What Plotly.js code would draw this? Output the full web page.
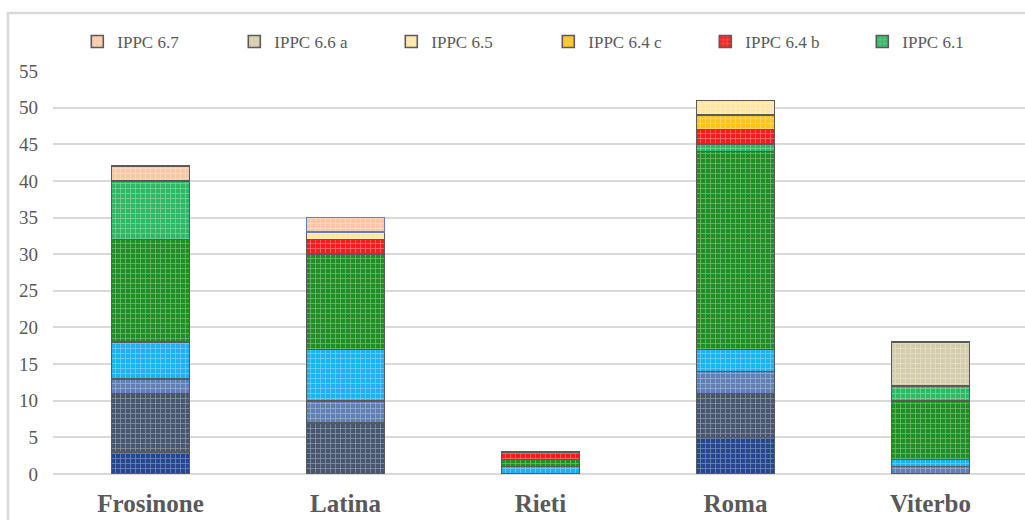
<!DOCTYPE html>
<html>
<head>
<meta charset="utf-8">
<script src="https://cdn.plot.ly/plotly-3.0.1.min.js"></script>
<style>
html,body{margin:0;padding:0;background:#fff;overflow:hidden;}
#chart{width:1025px;height:520px;}
</style>
</head>
<body>
<div id="chart"></div>
<script>
// Categories (provinces)
var categories = ['Frosinone', 'Latina', 'Rieti', 'Roma', 'Viterbo'];

// Series, bottom of the stack to top (null = no segment)
var seriesNames = ['IPPC 1.1', 'IPPC 2.3 a', 'IPPC 2.5 b', 'IPPC 5.3', 'IPPC 5.4',
                   'IPPC 6.1', 'IPPC 6.4 b', 'IPPC 6.4 c', 'IPPC 6.5', 'IPPC 6.6 a', 'IPPC 6.7'];
var ippc11  = [3, null, null, 5, null];
var ippc23a = [8, 7, null, 6, null];
var ippc25b = [2, 3, null, 3, 1];
var ippc53  = [5, 7, 1, 3, 1];
var ippc54  = [14, 13, 1, 27, 8];
var ippc61  = [8, null, null, 1, 2];
var ippc64b = [null, 2, 1, 2, null];
var ippc64c = [null, null, null, 2, null];
var ippc65  = [null, 1, null, 2, null];
var ippc66a = [null, null, null, null, 6];
var ippc67  = [2, 2, null, null, null];

var values = [ippc11, ippc23a, ippc25b, ippc53, ippc54, ippc61, ippc64b, ippc64c, ippc65, ippc66a, ippc67];
var colors = ['#24458f', '#46566e', '#5f7fb5', '#1cb2f2', '#1f8f24', '#2fb863',
              '#f51c1c', '#ffc21a', '#ffe6a3', '#d3ccac', '#f9c7a6'];
var inLegend = [false, false, false, false, false, true, true, true, true, true, true];

// Chart y-axis ticks
var yTicks = [0, 5, 10, 15, 20, 25, 30, 35, 40, 45, 50, 55];

var serif = '"Liberation Serif", "Times New Roman", serif';

var traces = seriesNames.map(function (name, i) {
  var lineColor = '#5a5a5a';
  if (name === 'IPPC 6.7') lineColor = ['#5a5a5a', '#5b7fc0', '#5a5a5a', '#5a5a5a', '#5a5a5a'];
  return {
    type: 'bar',
    name: name,
    x: categories,
    y: values[i],
    showlegend: inLegend[i],
    marker: {
      color: colors[i],
      line: {color: lineColor, width: 1.6},
      pattern: {shape: '+', size: 5, solidity: 0.3, fgcolor: '#ffffff', fgopacity: 0.35, fillmode: 'overlay'}
    },
    hovertemplate: '%{x}<br>' + name + ': %{y}<extra></extra>'
  };
});

var layout = {
  width: 1025,
  height: 520,
  margin: {l: 53, r: 0, t: 71, b: 46, pad: 0},
  paper_bgcolor: '#ffffff',
  plot_bgcolor: '#ffffff',
  barmode: 'stack',
  bargap: 0.6,
  font: {family: serif, color: '#595959', size: 17},
  xaxis: {
    type: 'category',
    range: [-0.5, 4.485],
    showgrid: false,
    showline: false,
    zeroline: false,
    ticks: '',
    ticklabelstandoff: 12,
    tickfont: {family: serif, size: 25, color: '#595959', weight: 'bold'}
  },
  yaxis: {
    range: [0, 55],
    tickvals: yTicks,
    ticktext: yTicks.map(String),
    showgrid: true,
    gridcolor: '#d9d9d9',
    gridwidth: 1.5,
    zeroline: true,
    zerolinecolor: '#d9d9d9',
    zerolinewidth: 1.5,
    showline: false,
    ticks: '',
    ticklabelstandoff: 14,
    tickfont: {family: serif, size: 19, color: '#595959'}
  },
  legend: {
    orientation: 'h',
    traceorder: 'reversed',
    x: 0.025,
    xanchor: 'left',
    y: 1.072,
    yanchor: 'middle',
    entrywidth: 112,
    entrywidthmode: 'pixels',
    itemwidth: 30,
    font: {family: serif, size: 17, color: '#595959'},
    bgcolor: 'rgba(0,0,0,0)'
  },
  shapes: [{
    type: 'rect', xref: 'paper', yref: 'paper',
    x0: -0.0463, x1: 1.05, y0: -0.3, y1: 1.1439,
    line: {color: '#d9d9d9', width: 2.5},
    fillcolor: 'rgba(0,0,0,0)',
    layer: 'below'
  }]
};

Plotly.newPlot('chart', traces, layout, {displayModeBar: false});
</script>
</body>
</html>
